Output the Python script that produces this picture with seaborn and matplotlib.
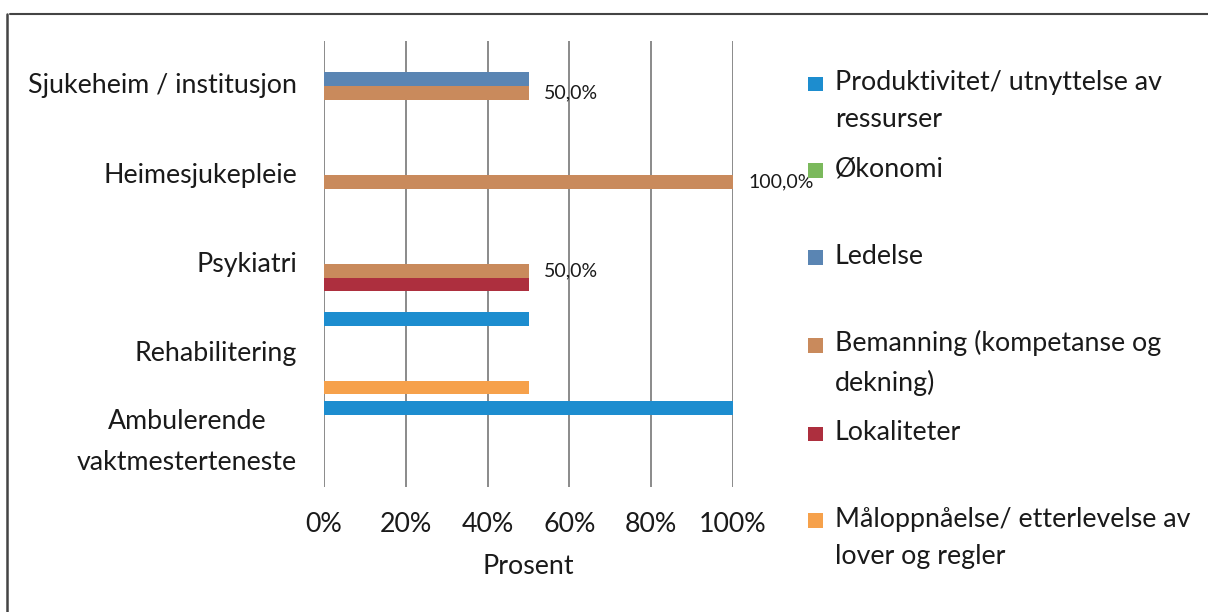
import matplotlib
matplotlib.use("Agg")
import matplotlib.pyplot as plt
from matplotlib.patches import Rectangle, Patch
from matplotlib.legend_handler import HandlerPatch
from matplotlib.lines import Line2D
from matplotlib.ticker import FuncFormatter
import seaborn as sns
import pandas as pd

# ---- data ----
categories = ["Sjukeheim / institusjon", "Heimesjukepleie", "Psykiatri",
              "Rehabilitering", "Ambulerende\nvaktmesterteneste"]
series_names = ["Produktivitet/ utnyttelse av ressurser", "Økonomi", "Ledelse",
                "Bemanning (kompetanse og dekning)", "Lokaliteter",
                "Måloppnåelse/ etterlevelse av lover og regler"]
legend_labels = ["Produktivitet/ utnyttelse av\nressurser", "Økonomi", "Ledelse",
                 "Bemanning (kompetanse og\ndekning)", "Lokaliteter",
                 "Måloppnåelse/ etterlevelse av\nlover og regler"]
produktivitet = [0, 0, 0, 50, 100]
okonomi = [0, 0, 0, 0, 0]
ledelse = [50, 0, 0, 0, 0]
bemanning = [50, 100, 50, 0, 0]
lokaliteter = [0, 0, 50, 0, 0]
maloppnaelse = [0, 0, 0, 50, 0]
x_ticks = [0, 20, 40, 60, 80, 100]
colors = ["#1d8dcf", "#7bb95c", "#5a85b3", "#c98a5c", "#ad2f3e", "#f6a14b"]

all_values = [produktivitet, okonomi, ledelse, bemanning, lokaliteter, maloppnaelse]
rows = []
for name, vals in zip(series_names, all_values):
    for cat, v in zip(categories, vals):
        rows.append({"Kategori": cat, "Tema": name, "Prosent": v})
df = pd.DataFrame(rows)

sns.set_theme(style="white")
plt.rcParams["font.family"] = ["Lato", "DejaVu Sans"]

W, H = 1208, 612
fs = 19.3
fig = plt.figure(figsize=(W / 100, H / 100), dpi=100)
ax = fig.add_axes([324 / W, 1 - 487 / H, (733 - 324) / W, (487 - 41.3) / H])

sns.barplot(data=df, x="Prosent", y="Kategori", hue="Tema", orient="h",
            order=categories, hue_order=series_names, palette=colors,
            width=0.92, ax=ax, legend=False, linewidth=0, saturation=1)

ax.set_xlim(0, 100)
ax.set_xticks(x_ticks)
ax.xaxis.set_major_formatter(FuncFormatter(lambda v, p: f"{v:.0f}%"))
ax.grid(axis="x", color="#8a8a8a", linewidth=1.4)
ax.grid(axis="y", visible=False)
ax.set_axisbelow(True)
for s in ax.spines.values():
    s.set_visible(False)
ax.tick_params(axis="both", length=0, labelsize=fs, colors="#1a1a1a")
ax.tick_params(axis="x", pad=18)
ax.tick_params(axis="y", pad=19.5)
ax.set_ylabel("")
ax.set_xlabel("Prosent", fontsize=fs, color="#1a1a1a", labelpad=12)
for lab in ax.get_yticklabels():
    lab.set_multialignment("center")
    lab.set_linespacing(1.8)
    lab.set_verticalalignment("center")

# data labels on Bemanning
bem_container = ax.containers[3]
ax.bar_label(bem_container,
             labels=[(f"{v:.1f}%".replace(".", ",") if v else "") for v in bemanning],
             padding=11, fontsize=14, color="#1a1a1a")


class FirstLineHandler(HandlerPatch):
    def __init__(self, shift, size, **kw):
        super().__init__(**kw)
        self.shift = shift
        self.size = size

    def create_artists(self, legend, orig_handle, xdescent, ydescent, width,
                       height, fontsize, trans):
        s = self.size
        p = Rectangle((-xdescent + (width - s) / 2, -ydescent + (height - s) / 2 + self.shift),
                      s, s, facecolor=orig_handle.get_facecolor(), edgecolor="none",
                      transform=trans)
        return [p]


line_step_px = 36
handles = [Patch(facecolor=c) for c in colors]
labs2 = [l if "\n" in l else l + "\n " for l in legend_labels]
shift_pt = line_step_px / 2 * 72 / 100
hmap = {h: FirstLineHandler(shift_pt, 10.5) for h in handles}
leg = fig.legend(handles, labs2, loc="upper left", bbox_to_anchor=(806 / W, 1 - 70 / H),
                 frameon=False, fontsize=fs, handlelength=0.72, handleheight=0.72,
                 handletextpad=0.35, labelspacing=0.91, borderpad=0, borderaxespad=0,
                 handler_map=hmap)
for t in leg.get_texts():
    t.set_linespacing(1.62)
    t.set_color("#1a1a1a")

# border lines (top and left)
fig.add_artist(Line2D([10 / W, 1], [1 - 14 / H, 1 - 14 / H], color="#444444", lw=1.5,
                      transform=fig.transFigure))
fig.add_artist(Line2D([7 / W, 7 / W], [1 - 14 / H, 0], color="#444444", lw=1.8,
                      transform=fig.transFigure))

fig.savefig("out.png", dpi=100, facecolor="white")
